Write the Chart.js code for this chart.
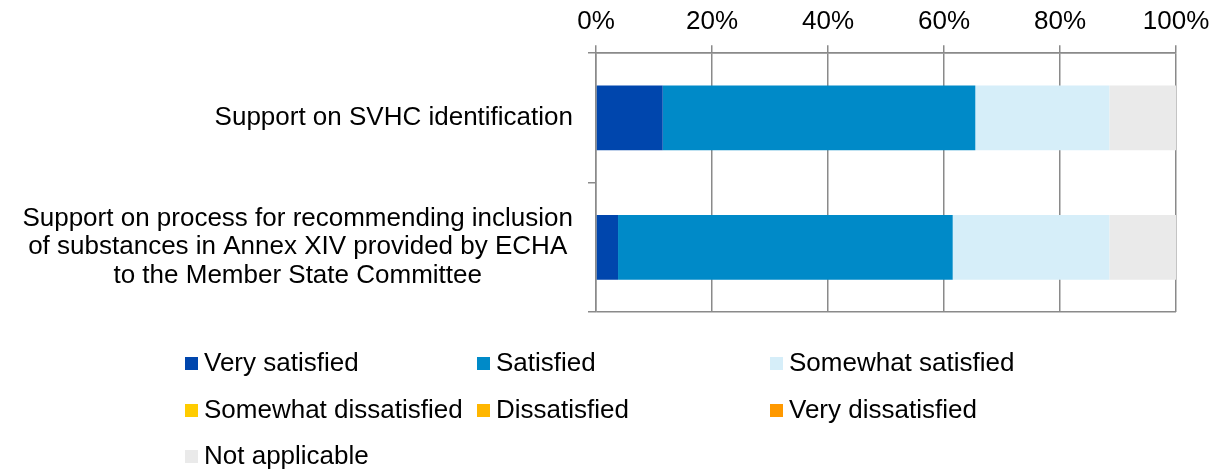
<!DOCTYPE html>
<html lang="en">

<head>
  <meta charset="UTF-8">
  <title>Satisfaction with ECHA support</title>
  <script src="https://cdn.jsdelivr.net/npm/chart.js"></script>
  <style>
    body { margin: 0; background: #fff; }
    #wrap { position: relative; width: 1221px; height: 471px; font-family: "Liberation Sans", Arial, sans-serif; }
    #chart { position: absolute; left: 0; top: 0; }
    .leg-item { position: absolute; font-size: 26px; line-height: 30px; color: #000; white-space: nowrap; }
    .leg-box { display: inline-block; width: 13px; height: 13px; margin-right: 6px; vertical-align: 1px; }
  </style>
</head>

<body>
  <div id="wrap">
    <canvas id="chart" width="1221" height="471"></canvas>
    <div id="legenda"></div>
  </div>

<script>
  // categories (each one split in lines as in the picture)
  const categorias = [
    ['Support on SVHC identification'],
    ['Support on process for recommending inclusion', 'of substances in Annex XIV provided by ECHA', 'to the Member State Committee']
  ];

  // series values (%)
  const verySatisfied = [11.5, 3.8];
  const satisfied = [53.9, 57.7];
  const somewhatSatisfied = [23.1, 27.0];
  const somewhatDissatisfied = [0, 0];
  const dissatisfied = [0, 0];
  const veryDissatisfied = [0, 0];
  const notApplicable = [11.5, 11.5];

  const seriesNames = ['Very satisfied', 'Satisfied', 'Somewhat satisfied', 'Somewhat dissatisfied', 'Dissatisfied', 'Very dissatisfied', 'Not applicable'];
  const seriesValues = [verySatisfied, satisfied, somewhatSatisfied, somewhatDissatisfied, dissatisfied, veryDissatisfied, notApplicable];
  const seriesColors = ['#0046AD', '#008AC8', '#D6EEF9', '#FFCC00', '#FFB600', '#FF9900', '#EAEAEA'];

  // axis ticks
  const xTicks = [0, 20, 40, 60, 80, 100];

  const cinza = '#8a8a8a';
  const fonte = '"Liberation Sans", Arial, sans-serif';

  // draws the category labels on the left (single line right aligned, block centered)
  const rotulosCategorias = {
    id: 'rotulosCategorias',
    afterDraw(chart) {
      const ctx = chart.ctx;
      const yScale = chart.scales.y;
      const direita = 573;
      const alturaLinha = 28.5;
      ctx.save();
      ctx.font = '26px ' + fonte;
      ctx.fillStyle = '#000';
      ctx.textBaseline = 'middle';
      categorias.forEach(function (linhas, i) {
        const yCentro = yScale.getPixelForValue(i);
        let maior = 0;
        linhas.forEach(function (l) { maior = Math.max(maior, ctx.measureText(l).width); });
        const y0 = yCentro - (linhas.length - 1) * alturaLinha / 2;
        ctx.textAlign = 'center';
        linhas.forEach(function (l, j) {
          ctx.fillText(l, direita - maior / 2, y0 + j * alturaLinha);
        });
      });
      ctx.restore();
    }
  };

  function plotarGrafico() {
    const datasets = seriesNames.map(function (nome, i) {
      return {
        label: nome,
        data: seriesValues[i],
        backgroundColor: seriesColors[i],
        borderWidth: 0,
        barPercentage: 0.5,
        categoryPercentage: 1
      };
    });

    const config = {
      type: 'bar',
      data: {
        labels: categorias.map(function (c) { return c.join(' '); }),
        datasets: datasets
      },
      options: {
        indexAxis: 'y',
        responsive: false,
        animation: false,
        layout: { padding: { left: 588, right: 45, top: -2, bottom: 159 } },
        plugins: {
          legend: { display: false },
          tooltip: { enabled: false }
        },
        scales: {
          x: {
            position: 'top',
            stacked: true,
            min: 0,
            max: 100,
            afterBuildTicks: function (scale) {
              scale.ticks = xTicks.map(function (v) { return { value: v }; });
            },
            ticks: {
              color: '#000',
              padding: 8,
              font: { family: fonte, size: 26 },
              callback: function (v) { return v + '%'; }
            },
            grid: { color: cinza, lineWidth: 1.5, tickLength: 8, tickColor: cinza },
            border: { color: cinza, width: 1.5 }
          },
          y: {
            stacked: true,
            ticks: { display: false },
            grid: {
              offset: true,
              lineWidth: 1.5,
              tickLength: 8,
              tickColor: cinza,
              color: function (ctx) { return ctx.index === 1 ? 'rgba(0,0,0,0)' : cinza; }
            },
            border: { color: cinza, width: 1.5 }
          }
        }
      },
      plugins: [rotulosCategorias]
    };

    new Chart(document.getElementById('chart'), config);
  }

  // html legend in three columns
  function montarLegenda() {
    const colunas = [185, 477, 770];
    const linhas = [362, 409, 455];
    const legenda = document.getElementById('legenda');
    seriesNames.forEach(function (nome, i) {
      const item = document.createElement('div');
      item.className = 'leg-item';
      item.style.left = colunas[i % 3] + 'px';
      item.style.top = (linhas[Math.floor(i / 3)] - 15) + 'px';
      item.innerHTML = '<span class="leg-box" style="background:' + seriesColors[i] + '"></span>' + nome;
      legenda.appendChild(item);
    });
  }

  plotarGrafico();
  montarLegenda();
</script>
</body>

</html>
